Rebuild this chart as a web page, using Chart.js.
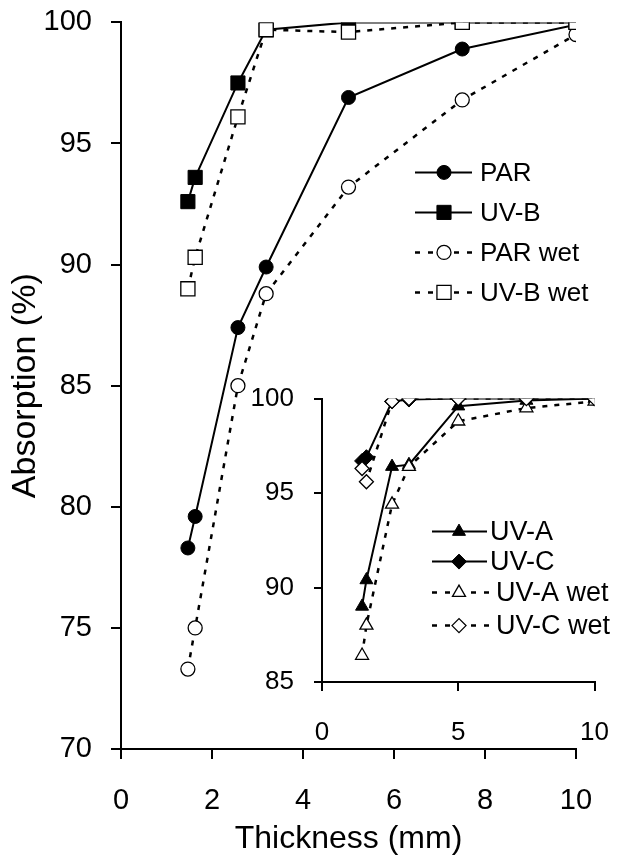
<!DOCTYPE html>
<html>
<head>
<meta charset="utf-8">
<script src="https://cdn.jsdelivr.net/npm/chart.js@4/dist/chart.umd.min.js"></script>
<style>
  html, body { margin:0; padding:0; background:#fff; }
  #wrap { position:relative; width:620px; height:858px; overflow:hidden; }
  canvas { position:absolute; left:0; top:0; }
</style>
</head>
<body>
<div id="wrap">
  <canvas id="main" width="620" height="858"></canvas>
  <canvas id="inset" width="380" height="400"></canvas>
</div>
<script>
// thickness of the samples (mm), shared by every series
const thickness = [1.47, 1.63, 2.57, 3.19, 5, 7.5, 10];

// main panel
const parDry = [78.3, 79.6, 87.4, 89.9, 96.9, 98.9, 99.9];
const uvbDry = [92.6, 93.6, 97.5, 99.7, 100, 100, 100];
const parWet = [73.3, 75.0, 85.0, 88.8, 93.2, 96.8, 99.5];
const uvbWet = [89.0, 90.3, 96.1, 99.7, 99.6, 100, 100];

// inset panel
const uvaDry = [89.0, 90.4, 96.4, 96.5, 99.6, 99.9, 100];
const uvcDry = [96.7, 96.9, 99.85, 99.95, 100, 100, 100];
const uvaWet = [86.4, 88.0, 94.4, 96.4, 98.8, 99.5, 99.85];
const uvcWet = [96.3, 95.6, 99.85, 100, 100, 100, 100];

const mainLabels = ["PAR", "UV-B", "PAR wet", "UV-B wet"];
const insetLabels = ["UV-A", "UV-C", "UV-A wet", "UV-C wet"];

const mainX = { min: 0, max: 10, step: 2 };
const mainY = { min: 70, max: 100, step: 5 };
const insetX = { min: 0, max: 10, step: 5 };
const insetY = { min: 85, max: 100, step: 5 };

Chart.defaults.font.family = "'Liberation Sans', Arial, Helvetica, sans-serif";
Chart.defaults.color = "#000";

const pts = arr => arr.map((v, i) => ({ x: thickness[i], y: v }));

function series(label, values, style, filled, dashed, radius, order){
  return {
    label,
    data: pts(values),
    borderColor: "#000",
    borderWidth: dashed ? 2.5 : 2,
    borderDash: dashed ? [5, 7] : [],
    pointStyle: style,
    pointRadius: radius,
    pointBackgroundColor: filled ? "#000" : "#fff",
    pointBorderColor: "#000",
    pointBorderWidth: filled ? 1 : 1.3,
    fill: false,
    tension: 0,
    order
  };
}

// legend drawn as line + marker + text; positions given in page pixels
const lineLegend = {
  id: "lineLegend",
  afterDatasetsDraw(chart, args, opts){
    const ctx = chart.ctx;
    const ox = parseFloat(chart.canvas.style.left) || 0;
    const oy = parseFloat(chart.canvas.style.top) || 0;
    ctx.save();
    ctx.translate(-ox, -oy);
    chart.data.datasets.forEach((ds, i) => {
      const y = opts.rows[i];
      const wet = ds.borderDash.length > 0;
      const x1 = wet ? opts.x1 + opts.wetShift : opts.x1;
      ctx.strokeStyle = "#000";
      ctx.lineWidth = ds.borderWidth;
      ctx.setLineDash(wet ? opts.dash : []);
      ctx.beginPath();
      ctx.moveTo(opts.x0, y);
      ctx.lineTo(x1, y);
      ctx.stroke();
      ctx.setLineDash([]);
      ctx.fillStyle = ds.pointBackgroundColor;
      ctx.lineWidth = ds.pointBorderWidth;
      Chart.helpers.drawPoint(ctx, {
        pointStyle: ds.pointStyle, radius: ds.pointRadius,
        borderWidth: ds.pointBorderWidth, rotation: 0
      }, opts.xm, y);
      ctx.fillStyle = "#000";
      ctx.font = opts.font + "px 'Liberation Sans', Arial, sans-serif";
      ctx.textBaseline = "middle";
      ctx.textAlign = "left";
      ctx.fillText(ds.label, x1 + opts.gap, y + 1);
    });
    ctx.restore();
  }
};

function axis(range, size, tickLen, pad, extra){
  return Object.assign({
    type: "linear",
    min: range.min,
    max: range.max,
    ticks: { stepSize: range.step, font: { size: size }, color: "#000", padding: pad },
    grid: { drawOnChartArea: false, drawTicks: true, tickLength: tickLen, color: "#000", lineWidth: 2 },
    border: { color: "#000", width: 2 }
  }, extra);
}

// build the chart, then move/resize its canvas so the plot area lands on box
function place(id, makeConfig, box){
  const canvas = document.getElementById(id);
  let chart = new Chart(canvas, makeConfig());
  const ca = chart.chartArea;
  const dx = box.left - ca.left;
  const dy = box.top - ca.top;
  const w = canvas.width + (box.right - dx - ca.right);
  const h = canvas.height + (box.bottom - dy - ca.bottom);
  chart.destroy();
  canvas.width = w;
  canvas.height = h;
  canvas.style.left = dx + "px";
  canvas.style.top = dy + "px";
  return new Chart(canvas, makeConfig());
}

place("main", () => ({
  type: "line",
  data: {
    datasets: [
      series(mainLabels[0], parDry, "circle", true, false, 7, 4),
      series(mainLabels[1], uvbDry, "rect", true, false, 10, 3),
      series(mainLabels[2], parWet, "circle", false, true, 7, 2),
      series(mainLabels[3], uvbWet, "rect", false, true, 10, 1)
    ]
  },
  options: {
    responsive: false,
    animation: false,
    devicePixelRatio: 1,
    layout: { padding: { top: 0, right: 44, left: 0, bottom: 0 } },
    plugins: {
      legend: { display: false },
      tooltip: { enabled: false },
      lineLegend: { rows: [172, 212, 252, 292], x0: 415, x1: 472, wetShift: 0, gap: 8, xm: 444, font: 26, dash: [5, 8] }
    },
    scales: {
      x: axis(mainX, 29, 10, 25, {
        position: "bottom",
        title: { display: true, text: "Thickness (mm)", font: { size: 32 }, padding: { top: 0, bottom: 0 } },
        afterFit: s => { s.height = 109; }
      }),
      y: axis(mainY, 29, 10, 19, {
        position: "left",
        title: { display: true, text: "Absorption (%)", font: { size: 34 }, padding: { top: 5, bottom: 0 } },
        afterFit: s => { s.width = 121; }
      })
    }
  },
  plugins: [lineLegend]
}), { left: 121, top: 22, right: 576, bottom: 749 });

place("inset", () => ({
  type: "line",
  data: {
    datasets: [
      series(insetLabels[0], uvaDry, "triangle", true, false, 7.5, 4),
      series(insetLabels[1], uvcDry, "rectRot", true, false, 7.5, 3),
      series(insetLabels[2], uvaWet, "triangle", false, true, 7.5, 2),
      series(insetLabels[3], uvcWet, "rectRot", false, true, 7, 1)
    ]
  },
  options: {
    responsive: false,
    animation: false,
    devicePixelRatio: 1,
    layout: { padding: { top: 0, right: 0, left: 0, bottom: 0 } },
    plugins: {
      legend: { display: false },
      tooltip: { enabled: false },
      lineLegend: { rows: [532, 562, 593, 626], x0: 432, x1: 487, wetShift: 6, gap: 3, xm: 459, font: 27, dash: [5, 8] }
    },
    scales: {
      x: axis(insetX, 26, 9, 26, {
        position: "bottom",
        afterFit: s => { s.height = 87; }
      }),
      y: axis(insetY, 26, 8, 20, {
        position: "left",
        afterFit: s => { s.width = 82; }
      })
    }
  },
  plugins: [lineLegend]
}), { left: 322, top: 399, right: 595, bottom: 683 });
</script>
</body>
</html>
